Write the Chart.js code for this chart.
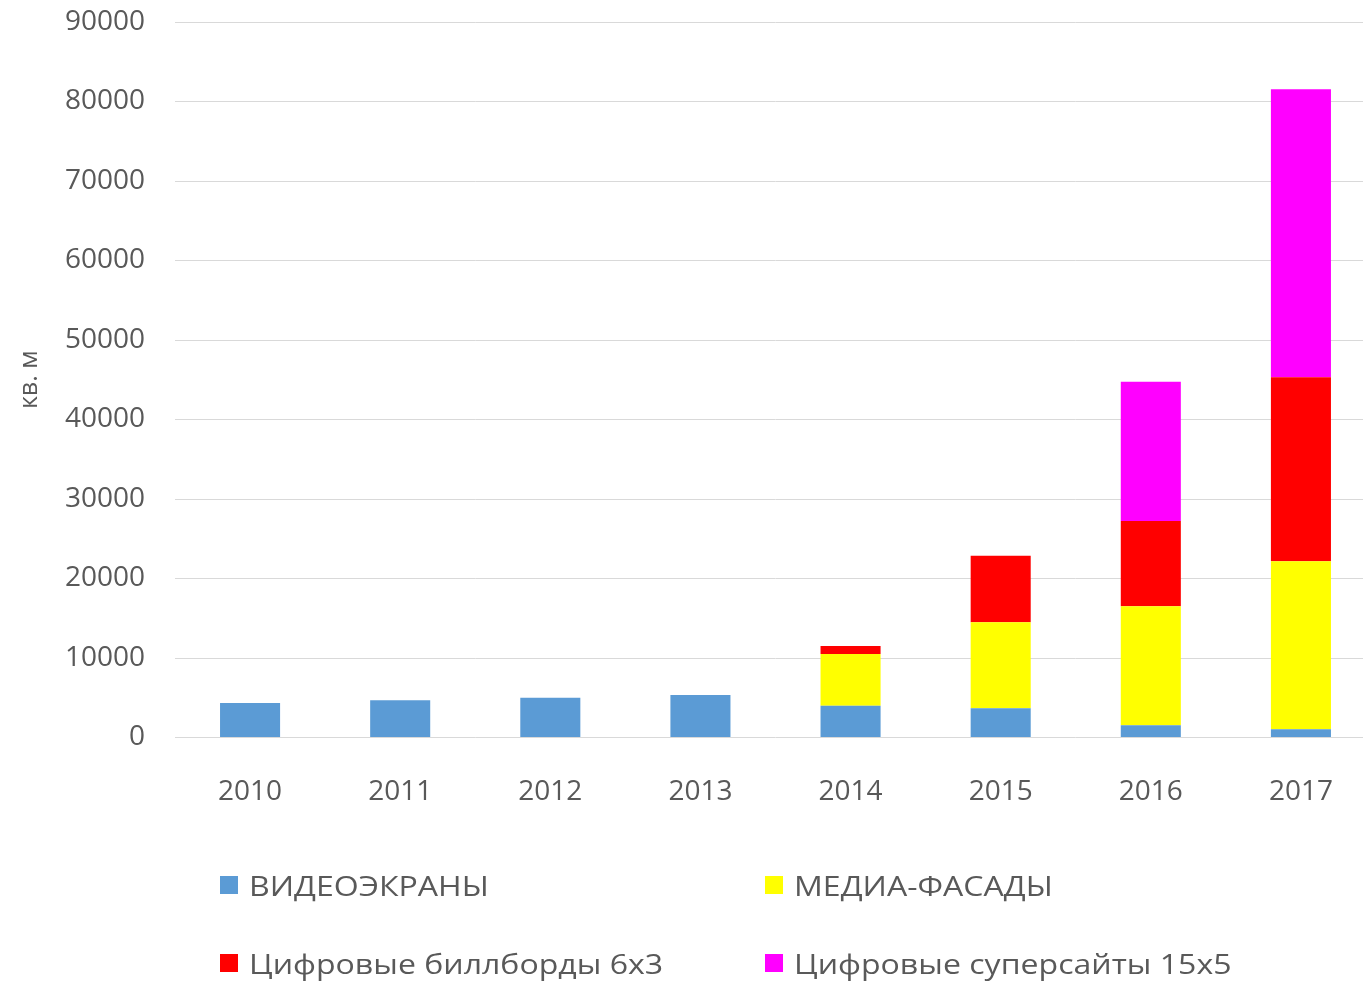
<!DOCTYPE html>
<html>
<head>
<meta charset="utf-8">
<script src="https://cdn.jsdelivr.net/npm/chart.js@4/dist/chart.umd.min.js"></script>
<style>
  html, body { margin: 0; padding: 0; background: #fff; overflow: hidden; width: 1363px; height: 983px; }
  #wrap { position: relative; width: 1380px; height: 983px; }
  #legend { position: absolute; left: 0; top: 0; width: 1363px; height: 983px; pointer-events: none;
            font-family: "Open Sans", sans-serif; font-size: 28px; color: #595959; }
  .item { position: absolute; display: flex; align-items: center; white-space: nowrap; }
  .box { width: 18px; height: 18px; margin-right: 11px; }
  .txt { display: inline-block; transform: scaleX(1.145); transform-origin: 0 50%; }
</style>
</head>
<body>
<div id="wrap">
  <canvas id="c" width="1380" height="983"></canvas>
  <div id="legend"></div>
</div>
<script>
const categories = ["2010", "2011", "2012", "2013", "2014", "2015", "2016", "2017"];
const seriesNames = ["ВИДЕОЭКРАНЫ", "МЕДИА-ФАСАДЫ", "Цифровые биллборды 6x3", "Цифровые суперсайты 15x5"];
const videoScreens = [4350, 4680, 5010, 5350, 4000, 3670, 1530, 1030];
const mediaFacades = [0, 0, 0, 0, 6500, 10820, 14970, 21130];
const billboards = [0, 0, 0, 0, 1010, 8380, 10730, 23140];
const supersites = [0, 0, 0, 0, 0, 0, 17520, 36230];
const yTicks = [0, 10000, 20000, 30000, 40000, 50000, 60000, 70000, 80000, 90000];
const yTitle = "кв. м";
const colors = ["#5B9BD5", "#FFFF00", "#FF0000", "#FF00FF"];

const seriesValues = [videoScreens, mediaFacades, billboards, supersites];
const FONT = "'Open Sans', sans-serif";
const TXT = "#595959";

const datasets = seriesValues.map((vals, i) => ({
  label: seriesNames[i],
  data: vals,
  backgroundColor: colors[i],
  borderWidth: 0,
  barPercentage: 0.4,
  categoryPercentage: 1.0
}));

new Chart(document.getElementById("c"), {
  type: "bar",
  data: { labels: categories, datasets },
  options: {
    responsive: false,
    animation: false,
    layout: { padding: { top: 22, right: 4, left: 0, bottom: 0 } },
    plugins: { legend: { display: false }, tooltip: { enabled: false } },
    scales: {
      x: {
        stacked: true,
        grid: { display: false, drawTicks: false },
        border: { display: false },
        ticks: { color: TXT, font: { family: FONT, size: 28 }, padding: 38, maxRotation: 0 },
        afterFit: (s) => { s.height = 245.5; }
      },
      y: {
        stacked: true,
        min: 0, max: 90000,
        afterBuildTicks: (s) => { s.ticks = yTicks.map(v => ({ value: v })); },
        grid: { color: "#d9d9d9", lineWidth: 1, drawTicks: false },
        border: { display: false },
        ticks: { color: TXT, font: { family: FONT, size: 28 }, padding: 30, callback: (v) => String(v) },
        title: { display: true, text: yTitle, color: TXT, font: { family: FONT, size: 25 }, padding: { top: 15, bottom: 0 } },
        afterFit: (s) => { s.width = 175; s.paddingTop = 0; s.paddingBottom = 0; }
      }
    }
  }
});

const legendPos = [[220, 885], [765, 885], [220, 963], [765, 963]];
const leg = document.getElementById("legend");
seriesNames.forEach((name, i) => {
  const it = document.createElement("div");
  it.className = "item";
  it.style.left = legendPos[i][0] + "px";
  it.style.top = (legendPos[i][1] - 20) + "px";
  it.style.height = "40px";
  const b = document.createElement("div");
  b.className = "box";
  b.style.background = colors[i];
  const t = document.createElement("span");
  t.className = "txt";
  t.textContent = name;
  it.appendChild(b); it.appendChild(t);
  leg.appendChild(it);
});
</script>
</body>
</html>
